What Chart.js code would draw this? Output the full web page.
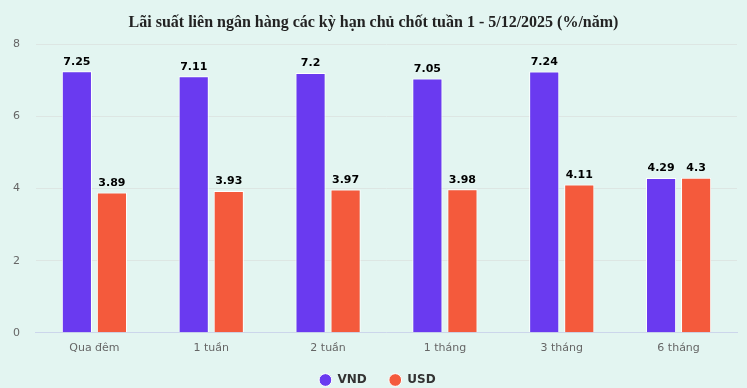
<!DOCTYPE html>
<html>
<head>
<meta charset="utf-8">
<script src="https://cdn.jsdelivr.net/npm/chart.js@4/dist/chart.umd.min.js"></script>
<style>
  html, body { margin: 0; padding: 0; background: #fff; }
  #wrap { width: 747px; height: 388px; background: #e3f5f1; }
</style>
</head>
<body>
<div id="wrap"><canvas id="myChart" width="747" height="388"></canvas></div>
<script>
const labels = ['Qua đêm', '1 tuần', '2 tuần', '1 tháng', '3 tháng', '6 tháng']
const vnd = [7.25, 7.11, 7.2, 7.05, 7.24, 4.29]
const usd = [3.89, 3.93, 3.97, 3.98, 4.11, 4.3]
const yTicks = [0, 2, 4, 6, 8]

// nhan gia tri tren dau cot
const barLabels = {
  id: 'barLabels',
  afterDatasetsDraw(chart) {
    const ctx = chart.ctx
    ctx.save()
    ctx.font = 'bold 11px "DejaVu Sans", Verdana, sans-serif'
    ctx.fillStyle = '#000'
    ctx.textAlign = 'center'
    ctx.textBaseline = 'bottom'
    chart.data.datasets.forEach((ds, i) => {
      chart.getDatasetMeta(i).data.forEach((bar, j) => {
        ctx.fillText(String(ds.data[j]), bar.x, bar.y - 4)
      })
    })
    ctx.restore()
  }
}

// day legend sang phai mot chut
const legendShift = {
  id: 'legendShift',
  afterLayout(chart) {
    chart.legend.left += 4
    chart.legend.right += 4
  }
}

const chart1 = document.querySelector('#myChart')

let data = {
  labels: labels,
  datasets: [
    {
      label: 'VND',
      data: vnd,
      backgroundColor: '#6a3af0',
      borderColor: '#ffffff',
      borderWidth: 1,
      categoryPercentage: 0.6,
      barPercentage: 0.86
    },
    {
      label: 'USD',
      data: usd,
      backgroundColor: '#f45a3c',
      borderColor: '#ffffff',
      borderWidth: 1,
      categoryPercentage: 0.6,
      barPercentage: 0.86
    }
  ]
}

let options = {
  responsive: false,
  maintainAspectRatio: false,
  animation: false,
  layout: { padding: { left: -3, right: -3, top: 5, bottom: -8 } },
  plugins: {
    title: {
      display: true,
      text: 'Lãi suất liên ngân hàng các kỳ hạn chủ chốt tuần 1 - 5/12/2025 (%/năm)',
      color: '#222',
      font: { family: '"Liberation Serif", "Times New Roman", serif', size: 16, weight: 'bold' },
      padding: { top: 8, bottom: 12 }
    },
    legend: {
      position: 'bottom',
      labels: {
        usePointStyle: true,
        pointStyle: 'circle',
        boxWidth: 12,
        boxHeight: 9,
        padding: 10,
        color: '#333',
        font: { family: '"DejaVu Sans", Verdana, sans-serif', size: 12, weight: 'bold' },
        // them khoang trang sau VND cho giong khoang cach cua anh goc
        generateLabels: (chart) => Chart.defaults.plugins.legend.labels.generateLabels(chart).map((l, i) => {
          if (i === 0) l.text = l.text + '\u00a0\u00a0\u00a0'
          return l
        })
      }
    },
    tooltip: { enabled: false }
  },
  scales: {
    x: {
      grid: { display: false, drawTicks: false },
      border: { display: true, color: '#ccd6eb' },
      ticks: { color: '#666', font: { family: '"DejaVu Sans", Verdana, sans-serif', size: 11 }, padding: 9 }
    },
    y: {
      min: 0,
      max: 8,
      afterBuildTicks: (axis) => { axis.ticks = yTicks.map(v => ({ value: v })) },
      grid: { color: '#dde6e3', drawTicks: false },
      border: { display: false },
      ticks: { color: '#666', font: { family: '"DejaVu Sans", Verdana, sans-serif', size: 11 }, padding: 16 }
    },
    // truc rong ben phai, chi de chua le phai
    yRight: {
      position: 'right',
      grid: { display: false, drawTicks: false },
      border: { display: false },
      ticks: { display: false },
      afterFit: (axis) => { axis.width = 13 }
    }
  }
}

let barChart = new Chart(chart1, { type: 'bar', data: data, options: options, plugins: [barLabels, legendShift] })
</script>
</body>
</html>
